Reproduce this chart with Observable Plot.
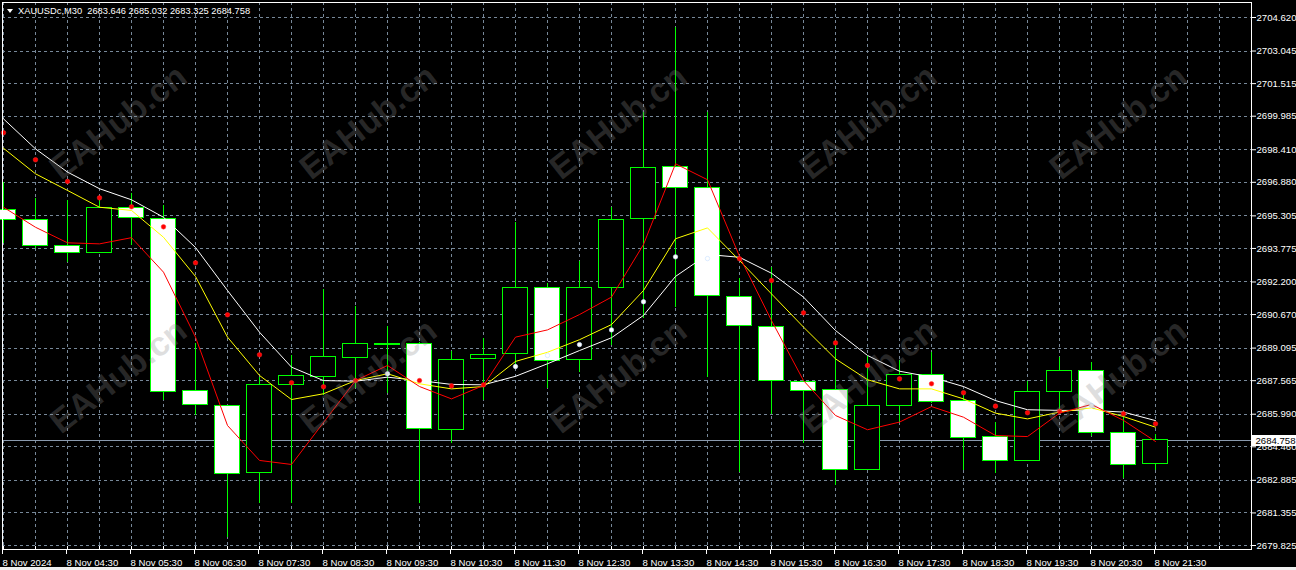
<!DOCTYPE html>
<html><head><meta charset="utf-8">
<script src="https://cdn.jsdelivr.net/npm/d3@7"></script>
<script src="https://cdn.jsdelivr.net/npm/@observablehq/plot@0.6"></script>
<style>
html,body{margin:0;padding:0;background:#f0f0f0;}
#wrap{position:relative;width:1296px;height:567px;background:#000;overflow:hidden;}
#title{position:absolute;left:18px;top:7px;color:#fff;font:9.3px "Liberation Sans",sans-serif;line-height:1;white-space:pre;}
#tri{position:absolute;left:7px;top:9px;width:0;height:0;border-left:3px solid transparent;border-right:3px solid transparent;border-top:4px solid #fff;}
.wm{position:absolute;font:bold 34px "Liberation Sans",sans-serif;color:rgba(140,140,140,0.28);transform:translate(-50%,-50%) rotate(-38deg);white-space:nowrap;pointer-events:none;}
</style></head>
<body><div id="wrap"><div id="chart"></div><div id="tri"></div><div id="title"></div></div>
<script>
const symbol = "XAUUSDc,M30";
const times = ["03:30","04:00","04:30","05:00","05:30","06:00","06:30","07:00","07:30","08:00","08:30","09:00","09:30","10:00","10:30","11:00","11:30","12:00","12:30","13:00","13:30","14:00","14:30","15:00","15:30","16:00","16:30","17:00","17:30","18:00","18:30","19:00","19:30","20:00","20:30","21:00","21:30"];
const open  = [2695.56,2695.12,2693.90,2693.57,2695.68,2695.17,2687.09,2686.37,2683.24,2687.37,2687.75,2688.64,2689.26,2689.30,2685.26,2688.57,2688.83,2691.93,2688.55,2691.93,2695.17,2697.62,2696.62,2691.50,2690.09,2687.51,2687.14,2683.38,2686.39,2687.84,2686.62,2684.93,2683.80,2687.04,2688.03,2685.12,2683.646];
const high  = [2696.87,2696.11,2696.03,2696.06,2696.34,2695.79,2689.30,2686.40,2687.73,2688.75,2691.83,2691.05,2690.11,2689.35,2688.95,2689.53,2694.98,2692.11,2693.18,2695.71,2700.16,2704.15,2700.16,2692.35,2692.89,2687.55,2689.45,2688.70,2688.51,2688.90,2686.95,2685.59,2687.53,2688.67,2688.40,2686.01,2685.032];
const low   = [2694.01,2693.76,2693.10,2693.57,2693.91,2686.63,2685.93,2680.20,2681.81,2681.81,2686.87,2687.18,2686.95,2681.81,2684.63,2686.63,2688.28,2687.20,2687.95,2689.22,2690.49,2691.00,2687.73,2683.27,2685.98,2684.60,2682.64,2683.35,2685.62,2686.50,2683.35,2683.22,2683.75,2686.17,2684.94,2682.97,2683.325];
const close = [2695.12,2693.90,2693.57,2695.68,2695.21,2687.04,2686.43,2683.19,2687.37,2687.79,2688.69,2689.30,2689.28,2685.31,2688.55,2688.78,2691.93,2688.51,2691.93,2695.12,2697.56,2696.62,2691.52,2690.14,2687.57,2687.10,2683.35,2686.39,2687.84,2686.57,2684.88,2683.80,2687.04,2688.03,2685.12,2683.62,2684.758];
const maRed    = [2695.71,2694.77,2694.04,2693.99,2694.28,2692.66,2689.61,2685.46,2683.82,2683.63,2685.60,2687.57,2688.28,2687.29,2686.71,2687.34,2689.61,2689.95,2690.67,2691.49,2693.96,2697.75,2697.00,2693.40,2690.39,2687.57,2685.93,2685.26,2685.62,2686.35,2685.85,2684.99,2684.94,2686.04,2686.45,2685.70,2684.71];
const maYellow = [2698.48,2697.28,2696.50,2695.71,2695.56,2694.30,2692.46,2689.61,2687.81,2686.68,2686.95,2687.57,2687.89,2687.42,2687.18,2687.29,2688.47,2688.90,2689.49,2690.20,2691.80,2694.23,2694.74,2693.21,2691.64,2690.08,2688.59,2687.61,2687.18,2687.18,2686.71,2686.04,2685.77,2686.09,2686.29,2685.88,2685.38];
const maWhite  = [2699.86,2698.45,2697.36,2696.58,2696.06,2695.24,2693.82,2691.80,2689.84,2688.20,2687.57,2687.54,2687.73,2687.57,2687.39,2687.37,2687.77,2688.36,2688.98,2689.58,2690.63,2692.46,2693.49,2693.36,2692.61,2691.49,2689.92,2688.75,2688.01,2687.73,2687.29,2686.63,2686.20,2686.17,2686.17,2686.09,2685.69];
const dotValue = [2699.21,2697.94,2696.92,2696.15,2695.73,2694.79,2693.10,2690.66,2688.78,2687.47,2687.28,2687.57,2687.89,2687.57,2687.32,2687.37,2688.23,2688.75,2689.26,2689.95,2691.27,2693.38,2693.30,2693.29,2692.27,2690.75,2689.34,2688.28,2687.65,2687.42,2687.00,2686.37,2686.06,2686.13,2686.40,2686.01,2685.54];
const dotSide  = ["r","r","r","r","r","r","r","r","r","r","r","r","w","r","r","r","w","w","w","w","w","w","w","r","r","r","r","r","r","r","r","r","r","r","w","r","r"];
const priceTicks = [2679.825,2681.355,2682.885,2684.460,2685.990,2687.565,2689.095,2690.670,2692.200,2693.775,2695.305,2696.880,2698.410,2699.985,2701.515,2703.045,2704.620];
const dateLabel = "8 Nov 2024";
const dayPrefix = "8 Nov ";

const n = times.length;
const candles = times.map((t, i) => ({i, t, o: open[i], h: high[i], l: low[i], c: close[i],
  red: maRed[i], yel: maYellow[i], wht: maWhite[i], dot: dotValue[i], side: dotSide[i]}));
const last = candles[n - 1];
const gridIdx = d3.range(0, n + 2);
const labelIdx = d3.range(0, n, 2);
const W = 1296, H = 567, mT = 2, mB = 18, mL = 2, mR = 45;
const plotH = H - mT - mB;

document.getElementById("title").textContent =
  `${symbol}  ${last.o.toFixed(3)} ${last.h.toFixed(3)} ${last.l.toFixed(3)} ${last.c.toFixed(3)}`;

const grid = "#778899";
const chart = Plot.plot({
  width: W, height: H,
  marginTop: mT, marginBottom: mB, marginLeft: mL, marginRight: mR,
  style: {background: "#000", color: "#fff", fontFamily: "'Liberation Sans', sans-serif", fontSize: "9.6px", overflow: "visible"},
  x: {type: "linear", domain: [-1/32, n + 2], axis: null, label: null},
  y: {domain: [priceTicks[0], priceTicks[priceTicks.length - 1]], range: [545, 17], axis: null, label: null},
  marks: [
    Plot.ruleX(gridIdx, {x: d => d, stroke: grid, strokeDasharray: "3,3", shapeRendering: "crispEdges"}),
    Plot.ruleY(priceTicks, {y: d => d, stroke: grid, strokeDasharray: "3,3", shapeRendering: "crispEdges"}),
    Plot.ruleY([last.c], {y: d => d, stroke: "#8a9aae", shapeRendering: "crispEdges"}),
    Plot.ruleX(candles, {x: "i", y1: "l", y2: "h", stroke: "#00ff00", shapeRendering: "crispEdges"}),
    Plot.rect(candles, {x1: d => d.i - 0.38, x2: d => d.i + 0.38, y1: "o", y2: "c",
      fill: d => d.c >= d.o ? "#000" : "#fff", stroke: "#00ff00", shapeRendering: "crispEdges"}),
    Plot.line(candles, {x: "i", y: "wht", stroke: "#ffffff", strokeWidth: 1}),
    Plot.line(candles, {x: "i", y: "yel", stroke: "#ffff00", strokeWidth: 1}),
    Plot.line(candles, {x: "i", y: "red", stroke: "#ff0000", strokeWidth: 1}),
    Plot.dot(candles.filter(d => d.side === "r"), {x: "i", y: "dot", r: 2.3, fill: "#ff0000", stroke: "#ff3030", strokeWidth: 0.5}),
    Plot.dot(candles.filter(d => d.side === "w"), {x: "i", y: "dot", r: 2.2, fill: "#ffffff", stroke: "#cfe4ff", strokeWidth: 0.7}),
    Plot.ruleX(gridIdx, {x: d => d, stroke: "#fff", insetTop: plotH - 3}),
    Plot.frame({stroke: "#fff"}),
    Plot.axisY({ticks: priceTicks, anchor: "right", label: null, tickSize: 4, tickPadding: 1, tickFormat: d => d.toFixed(3),
      stroke: "#fff", fill: "#fff", fontSize: 9.6}),
    Plot.axisX({ticks: labelIdx, anchor: "bottom", label: null, tickSize: 5, tickPadding: 5, textAnchor: "start", dx: -1,
      tickFormat: i => i === 0 ? dateLabel : dayPrefix + times[i], stroke: "#fff", fill: "#fff", fontSize: 9.6}),
    Plot.ruleY([last.c], {y: d => d, stroke: "#fff", strokeWidth: 11, insetLeft: W - mR - mL + 0.5, insetRight: -mR}),
    Plot.text([last.c], {y: d => d, text: d => d.toFixed(3), frameAnchor: "right", textAnchor: "start", dx: 4,
      fill: "#000", fontSize: 9.6})
  ]
});
document.getElementById("chart").appendChild(chart);

const wrap = document.getElementById("wrap");
for (const cy of [122, 376]) {
  for (const cx of [118, 368, 618, 868, 1118]) {
    const el = document.createElement("div");
    el.className = "wm";
    el.style.left = cx + "px";
    el.style.top = cy + "px";
    el.textContent = "EAHub.cn";
    wrap.appendChild(el);
  }
}
</script>
</body></html>
